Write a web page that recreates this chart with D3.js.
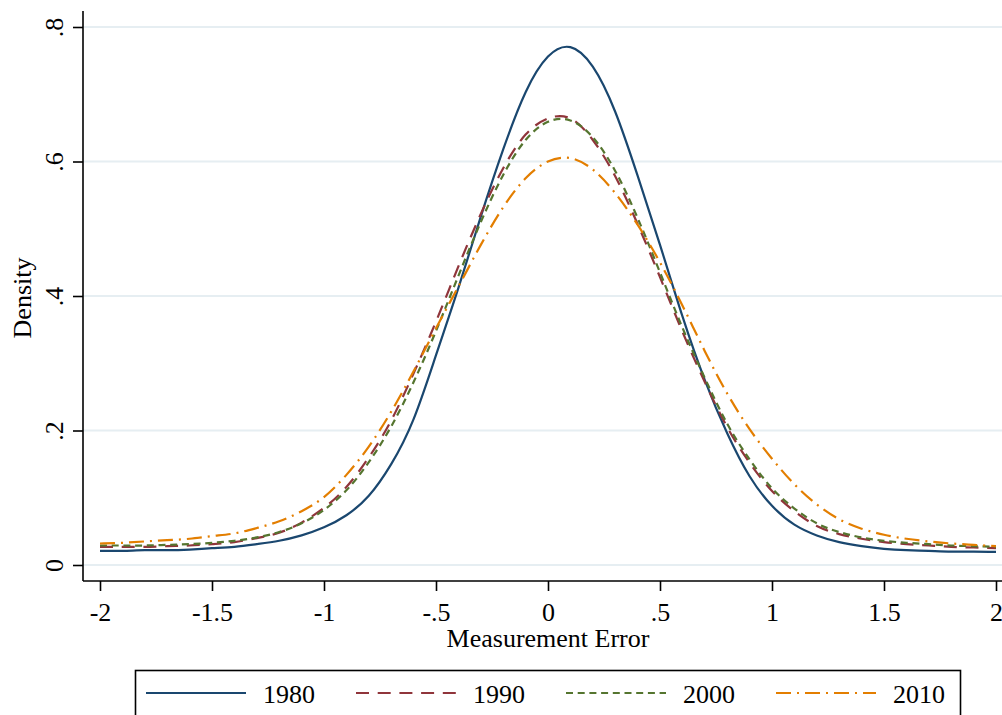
<!DOCTYPE html>
<html>
<head>
<meta charset="utf-8">
<script src="https://cdn.jsdelivr.net/npm/d3@7"></script>
<style>
  html, body { margin: 0; padding: 0; background: #ffffff; }
  svg { display: block; font-family: "Liberation Serif", "Times New Roman", serif; }
</style>
</head>
<body>
<svg id="chart" width="1002" height="715"></svg>
<script>
// Evaluation points of the kernel density estimates (measurement error)
const xPoints = [-2.0, -1.9, -1.8, -1.7, -1.6, -1.5, -1.4, -1.3, -1.2, -1.1,
                 -1.0, -0.9, -0.8, -0.7, -0.6, -0.5, -0.4, -0.3, -0.2, -0.1,
                  0.0,  0.1,  0.2,  0.3,  0.4,  0.5,  0.6,  0.7,  0.8,  0.9,
                  1.0,  1.1,  1.2,  1.3,  1.4,  1.5,  1.6,  1.7,  1.8,  1.9, 2.0];

// Estimated densities by year
const density1980 = [0.021, 0.021, 0.022, 0.022, 0.023, 0.025, 0.027, 0.031, 0.036, 0.044,
                     0.056, 0.074, 0.103, 0.150, 0.217, 0.312, 0.412, 0.518, 0.618, 0.703,
                     0.756, 0.770, 0.741, 0.674, 0.579, 0.476, 0.370, 0.275, 0.196, 0.132,
                     0.088, 0.060, 0.044, 0.034, 0.028, 0.024, 0.022, 0.021, 0.020, 0.020, 0.0195];
const density1990 = [0.027, 0.027, 0.027, 0.028, 0.029, 0.031, 0.034, 0.040, 0.048, 0.063,
                     0.085, 0.116, 0.160, 0.215, 0.285, 0.362, 0.444, 0.522, 0.590, 0.640,
                     0.664, 0.664, 0.632, 0.578, 0.507, 0.428, 0.347, 0.272, 0.205, 0.152,
                     0.110, 0.080, 0.058, 0.046, 0.039, 0.034, 0.031, 0.029, 0.027, 0.026, 0.025];
const density2000 = [0.029, 0.029, 0.029, 0.030, 0.031, 0.033, 0.036, 0.041, 0.049, 0.062,
                     0.082, 0.111, 0.153, 0.206, 0.272, 0.348, 0.430, 0.510, 0.580, 0.632,
                     0.659, 0.661, 0.636, 0.586, 0.516, 0.435, 0.353, 0.278, 0.210, 0.157,
                     0.114, 0.084, 0.062, 0.049, 0.041, 0.036, 0.033, 0.031, 0.029, 0.028, 0.027];
const density2010 = [0.032, 0.033, 0.035, 0.037, 0.039, 0.043, 0.047, 0.055, 0.065, 0.080,
                     0.101, 0.134, 0.176, 0.228, 0.288, 0.352, 0.414, 0.476, 0.532, 0.575,
                     0.600, 0.605, 0.588, 0.553, 0.506, 0.450, 0.386, 0.318, 0.255, 0.202,
                     0.158, 0.120, 0.090, 0.068, 0.054, 0.045, 0.039, 0.035, 0.032, 0.030, 0.028];

const seriesNames = ["1980", "1990", "2000", "2010"];
const seriesColors = ["#1a476f", "#90353b", "#55752f", "#e37e00"];
const seriesDashes = ["none", "13,8.7", "7,4.7", "15,6,2,6"];

const xTickValues = [-2, -1.5, -1, -0.5, 0, 0.5, 1, 1.5, 2];
const xTickLabels = ["-2", "-1.5", "-1", "-.5", "0", ".5", "1", "1.5", "2"];
const yTickValues = [0, 0.2, 0.4, 0.6, 0.8];
const yTickLabels = ["0", ".2", ".4", ".6", ".8"];

const xTitle = "Measurement Error";
const yTitle = "Density";

const svg = d3.select("#chart");
const fontSize = 26;

const x = d3.scaleLinear().domain([-2, 2]).range([100, 996]);
const y = d3.scaleLinear().domain([0, 0.8]).range([565, 27]);

const axisX = 83;      // left axis line position
const axisY = 581;     // bottom axis line position
const plotTop = 11;
const plotRight = 1002;

// Horizontal gridlines
svg.append("g")
  .selectAll("line")
  .data(yTickValues)
  .join("line")
  .attr("x1", axisX).attr("x2", plotRight)
  .attr("y1", d => y(d)).attr("y2", d => y(d))
  .attr("stroke", "#e6eef2")
  .attr("stroke-width", 2);

// Density curves
const lineGen = d3.line()
  .x((d, i) => x(xPoints[i]))
  .y(d => y(d))
  .curve(d3.curveNatural);

const allSeries = [density1980, density1990, density2000, density2010];
svg.append("g")
  .selectAll("path")
  .data(allSeries)
  .join("path")
  .attr("d", d => lineGen(d))
  .attr("fill", "none")
  .attr("stroke", (d, i) => seriesColors[i])
  .attr("stroke-width", 2.2)
  .attr("stroke-dasharray", (d, i) => seriesDashes[i]);

// Y axis
const yAxis = d3.axisLeft(y)
  .tickValues(yTickValues)
  .tickFormat((d, i) => yTickLabels[i])
  .tickSize(10)
  .tickPadding(0);
const gy = svg.append("g").attr("transform", `translate(${axisX},0)`).call(yAxis);
gy.select(".domain").remove();
gy.selectAll(".tick line").attr("stroke", "#000").attr("stroke-width", 1.6);
gy.selectAll(".tick text")
  .attr("x", 0).attr("y", 0).attr("dy", 0)
  .attr("transform", "translate(-20,0) rotate(-90)")
  .attr("text-anchor", "middle")
  .attr("fill", "#000")
  .style("font-family", "Liberation Serif")
  .style("font-size", fontSize + "px");
gy.append("line")
  .attr("x1", 0).attr("x2", 0)
  .attr("y1", plotTop).attr("y2", axisY)
  .attr("stroke", "#000").attr("stroke-width", 1.6);

// X axis
const xAxis = d3.axisBottom(x)
  .tickValues(xTickValues)
  .tickFormat((d, i) => xTickLabels[i])
  .tickSize(10)
  .tickPadding(12);
const gx = svg.append("g").attr("transform", `translate(0,${axisY})`).call(xAxis);
gx.select(".domain").remove();
gx.selectAll(".tick line").attr("stroke", "#000").attr("stroke-width", 1.6);
gx.selectAll(".tick text")
  .attr("fill", "#000")
  .style("font-family", "Liberation Serif")
  .style("font-size", fontSize + "px");
gx.append("line")
  .attr("x1", axisX).attr("x2", plotRight)
  .attr("y1", 0).attr("y2", 0)
  .attr("stroke", "#000").attr("stroke-width", 1.6);

// Axis titles
svg.append("text")
  .attr("x", x(0)).attr("y", 647)
  .attr("text-anchor", "middle")
  .style("font-size", fontSize + "px")
  .text(xTitle);
svg.append("text")
  .attr("transform", `translate(31,${(y(0.8) + y(0)) / 2 + 2}) rotate(-90)`)
  .attr("text-anchor", "middle")
  .style("font-size", fontSize + "px")
  .text(yTitle);

// Legend
const legend = svg.append("g");
legend.append("rect")
  .attr("x", 135.5).attr("y", 670.5)
  .attr("width", 825).attr("height", 70)
  .attr("fill", "#fff")
  .attr("stroke", "#000").attr("stroke-width", 1.6);
const legendItem = legend.selectAll("g.item")
  .data(seriesNames)
  .join("g")
  .attr("class", "item")
  .attr("transform", (d, i) => `translate(${146 + i * 210},0)`);
legendItem.append("line")
  .attr("x1", 0).attr("x2", 100)
  .attr("y1", 693).attr("y2", 693)
  .attr("stroke", (d, i) => seriesColors[i])
  .attr("stroke-width", 2.2)
  .attr("stroke-dasharray", (d, i) => seriesDashes[i]);
legendItem.append("text")
  .attr("x", 117).attr("y", 703)
  .style("font-size", fontSize + "px")
  .text(d => d);
</script>
</body>
</html>
